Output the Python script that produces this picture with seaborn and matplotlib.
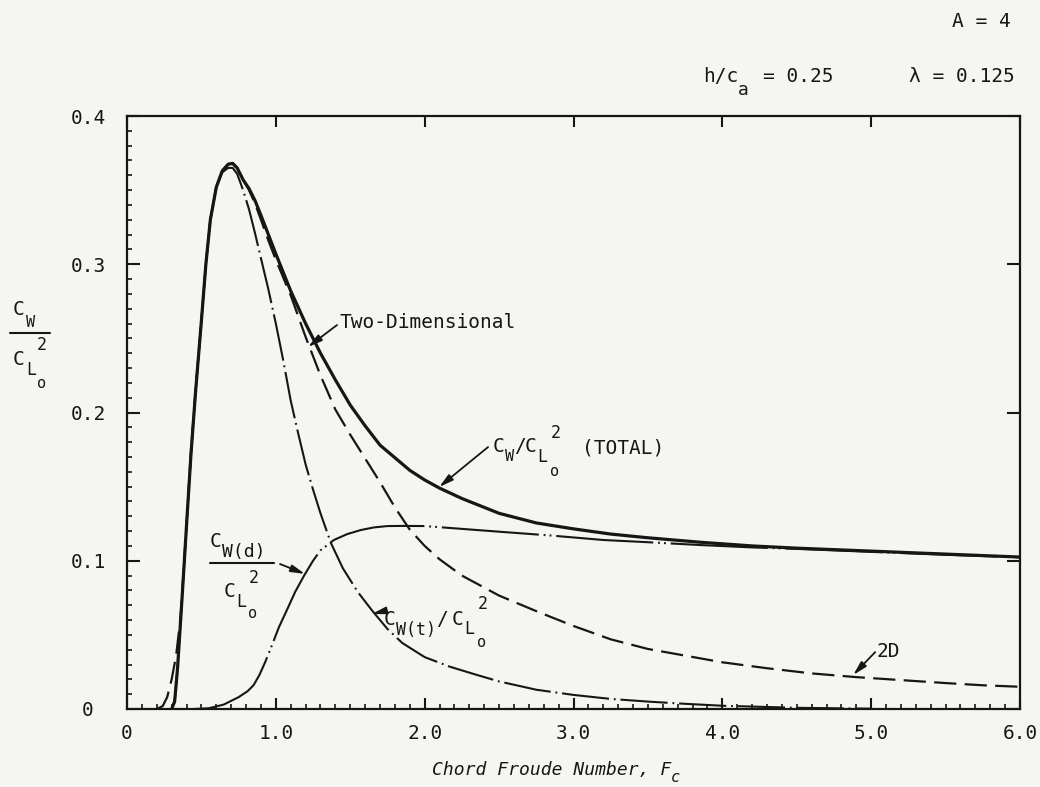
import matplotlib
matplotlib.use("Agg")
import matplotlib.pyplot as plt
from matplotlib.lines import Line2D
from matplotlib.ticker import MultipleLocator
import pandas as pd
import seaborn as sns

# ---- wave drag coefficient ratios vs chord Froude number ----
# total  C_W / C_Lo^2
f_total = [0.30, 0.32, 0.34, 0.37, 0.40, 0.43, 0.46, 0.50, 0.53, 0.56, 0.60, 0.64,
           0.68, 0.71, 0.74, 0.78, 0.82, 0.86, 0.90, 0.95, 1.00, 1.10, 1.20, 1.30,
           1.40, 1.50, 1.60, 1.70, 1.80, 1.90, 2.00, 2.10, 2.25, 2.50, 2.75, 3.00,
           3.25, 3.50, 3.85, 4.20, 4.50, 5.00, 5.50, 6.00]
cw_total = [0.000, 0.005, 0.028, 0.075, 0.124, 0.172, 0.213, 0.262, 0.300, 0.330, 0.352, 0.363,
            0.3675, 0.368, 0.365, 0.357, 0.351, 0.343, 0.333, 0.320, 0.307, 0.282, 0.260, 0.240,
            0.222, 0.205, 0.191, 0.178, 0.1695, 0.161, 0.1545, 0.149, 0.142, 0.132, 0.1255, 0.1215,
            0.118, 0.1155, 0.1125, 0.110, 0.1085, 0.1065, 0.1045, 0.1025]

# two-dimensional result
f_2d = [0.20, 0.24, 0.27, 0.30, 0.33, 0.36, 0.39, 0.43, 0.46, 0.50, 0.53, 0.56, 0.60,
        0.64, 0.68, 0.71, 0.74, 0.78, 0.82, 0.86, 0.90, 0.95, 1.00, 1.10, 1.20, 1.30,
        1.40, 1.50, 1.60, 1.70, 1.80, 1.90, 2.00, 2.10, 2.25, 2.50, 2.75, 3.00, 3.25,
        3.50, 3.75, 4.00, 4.30, 4.60, 4.90, 5.20, 5.50, 5.75, 6.00]
cw_2d = [0.000, 0.002, 0.008, 0.020, 0.036, 0.062, 0.108, 0.174, 0.214, 0.262, 0.300, 0.330, 0.352,
         0.363, 0.3675, 0.368, 0.365, 0.357, 0.350, 0.341, 0.330, 0.316, 0.303, 0.279, 0.251, 0.225,
         0.202, 0.185, 0.169, 0.153, 0.136, 0.121, 0.110, 0.101, 0.090, 0.0765, 0.066, 0.056, 0.047,
         0.0405, 0.036, 0.0315, 0.0275, 0.024, 0.0215, 0.0195, 0.0175, 0.016, 0.015]

# thickness component  C_W(t) / C_Lo^2
f_t = [0.30, 0.32, 0.34, 0.37, 0.40, 0.43, 0.46, 0.50, 0.53, 0.56, 0.60, 0.64, 0.68,
       0.71, 0.74, 0.78, 0.82, 0.86, 0.90, 0.95, 1.00, 1.05, 1.10, 1.15, 1.20, 1.25,
       1.30, 1.37, 1.45, 1.55, 1.65, 1.75, 1.85, 2.00, 2.17, 2.35, 2.50, 2.75, 3.00,
       3.25, 3.50, 3.75, 4.00, 4.50, 5.00]
cw_t = [0.000, 0.005, 0.028, 0.075, 0.124, 0.172, 0.213, 0.262, 0.300, 0.330, 0.352, 0.362, 0.365,
        0.365, 0.361, 0.350, 0.337, 0.321, 0.304, 0.283, 0.260, 0.235, 0.208, 0.186, 0.165, 0.148,
        0.132, 0.112, 0.095, 0.079, 0.066, 0.054, 0.0445, 0.035, 0.0285, 0.023, 0.0186, 0.013, 0.0095,
        0.0068, 0.005, 0.0035, 0.0022, 0.0008, 0.0002]

# downwash component  C_W(d) / C_Lo^2
f_d = [0.45, 0.55, 0.65, 0.75, 0.81, 0.85, 0.89, 0.93, 0.97, 1.02, 1.08, 1.13, 1.19,
       1.25, 1.30, 1.39, 1.48, 1.57, 1.66, 1.75, 1.85, 2.00, 2.25, 2.50, 2.85, 3.20,
       3.50, 3.85, 4.20, 4.50, 5.00, 5.50, 6.00]
cw_d = [0.000, 0.0005, 0.003, 0.008, 0.012, 0.016, 0.023, 0.032, 0.042, 0.055, 0.068, 0.079, 0.090,
        0.100, 0.107, 0.114, 0.118, 0.1207, 0.1225, 0.1234, 0.1235, 0.1234, 0.1215, 0.1196, 0.117,
        0.114, 0.1125, 0.1106, 0.109, 0.108, 0.106, 0.104, 0.1023]

x_ticks = [0, 1, 2, 3, 4, 5, 6]
x_tick_labels = ["0", "1.0", "2.0", "3.0", "4.0", "5.0", "6.0"]
y_ticks = [0, 0.1, 0.2, 0.3, 0.4]
y_tick_labels = ["0", "0.1", "0.2", "0.3", "0.4"]

# ---- style ----
sns.set_theme(style="ticks")
plt.rcParams["font.family"] = ["DejaVu Sans Mono", "DejaVu Sans"]
plt.rcParams["lines.scale_dashes"] = False

INK = "#161616"
PAPER = "#f5f5f2"
W, H = 1040, 787

fig = plt.figure(figsize=(W / 100, H / 100), dpi=100, facecolor=PAPER)
ax = fig.add_axes([127 / W, 78 / H, 893 / W, 593 / H])
ax.set_facecolor(PAPER)

curves = [
    (f_2d, cw_2d, (0, (16, 6)), 1.6),
    (f_t, cw_t, (0, (34, 3.5, 1.3, 3.5)), 1.5),
    (f_d, cw_d, (0, (70, 3.5, 1.3, 3, 1.3, 3.5)), 1.5),
    (f_total, cw_total, "-", 2.3),
]
for fx, fy, ls, lw in curves:
    df = pd.DataFrame({"F": fx, "CW": fy})
    sns.lineplot(data=df, x="F", y="CW", ax=ax, color=INK, linewidth=lw,
                 linestyle=ls, sort=False, estimator=None)

ax.set_xlim(0, 6)
ax.set_ylim(0, 0.4)
ax.set_xlabel("")
ax.set_ylabel("")
ax.set_xticks(x_ticks, x_tick_labels)
ax.set_yticks(y_ticks, y_tick_labels)
ax.xaxis.set_minor_locator(MultipleLocator(0.1))
ax.yaxis.set_minor_locator(MultipleLocator(0.01))

ax.tick_params(which="major", direction="in", top=True, right=True, width=1.5,
               color=INK, labelcolor=INK, labelsize=14)
ax.tick_params(axis="x", which="major", length=8, pad=11)
ax.tick_params(axis="y", which="major", length=9.5, pad=28)
ax.tick_params(which="minor", direction="in", top=False, right=False, length=3.5,
               width=1.2, color=INK)
for lab in ax.get_yticklabels():
    lab.set_horizontalalignment("center")
for sp in ax.spines.values():
    sp.set_linewidth(1.6)
    sp.set_color(INK)


# ---- text helpers (positions in figure pixels, measured from the top) ----
def put(x, y, s, size=14, **kw):
    """Place a left/baseline-anchored string at figure pixel (x, y-from-top)."""
    ax.annotate(s, xy=(x, H - y), xycoords="figure pixels", fontsize=size,
                ha=kw.pop("ha", "left"), va="baseline", color=INK,
                annotation_clip=False, **kw)


def bar(x0, x1, y):
    fig.add_artist(Line2D([x0 / W, x1 / W], [1 - y / H, 1 - y / H],
                          transform=fig.transFigure, color=INK, lw=1.5))


# x-axis title
put(432, 775, "Chord Froude Number, F", 13, style="oblique")
put(671, 782, "c", 11, style="oblique")

# y-axis title:  C_W / C_Lo^2
put(13, 315, "C", 14)
put(26, 327, "W", 11)
bar(10, 50, 333)
put(37, 350, "2", 12)
put(13, 365, "C", 14)
put(26, 375, "L", 12)
put(37, 388, "o", 11)

# parameters
put(1011, 27, "A = 4", 14, ha="right")
put(703, 82, "h/c", 14)
put(738, 95, "a", 13)
put(763, 82, "= 0.25", 14)
put(1015, 82, "λ = 0.125", 14, ha="right")

# total label
put(493, 452, "C", 14)
put(505, 461, "W", 11)
put(514, 452, "/", 14)
put(525, 452, "C", 14)
put(537, 462, "L", 12)
put(550, 476, "o", 11)
put(551, 438, "2", 12)
put(582, 453, "(TOTAL)", 14)

# thickness label
put(384, 625, "C", 14)
put(396, 635, "W(t)", 12)
put(436, 625, "/", 14)
put(452, 625, "C", 14)
put(464, 634, "L", 12)
put(477, 647, "o", 11)
put(478, 609, "2", 12)

# downwash label
put(210, 547, "C", 14)
put(222, 557, "W(d)", 13)
bar(210, 274, 563)
put(249, 583, "2", 12)
put(224, 597, "C", 14)
put(236, 607, "L", 12)
put(248, 618, "o", 11)

put(339, 328, "Two-Dimensional", 14)
put(877, 657, "2D", 14)

# ---- leader arrows to the curves ----
arrow = dict(arrowstyle="-|>,head_length=0.7,head_width=0.18", color=INK, lw=1.3,
             shrinkA=0, shrinkB=0)
ax.annotate("", xy=(1.216, 0.2442), xytext=(1.411, 0.259), arrowprops=arrow)
ax.annotate("", xy=(2.097, 0.1497), xytext=(2.426, 0.1767), arrowprops=arrow)
ax.annotate("", xy=(1.646, 0.0641), xytext=(1.725, 0.0660), arrowprops=arrow)
ax.annotate("", xy=(1.196, 0.0911), xytext=(1.028, 0.0978), arrowprops=arrow)
ax.annotate("", xy=(4.879, 0.0229), xytext=(5.027, 0.0384), arrowprops=arrow)

fig.savefig("out.png", dpi=100, facecolor=PAPER)
